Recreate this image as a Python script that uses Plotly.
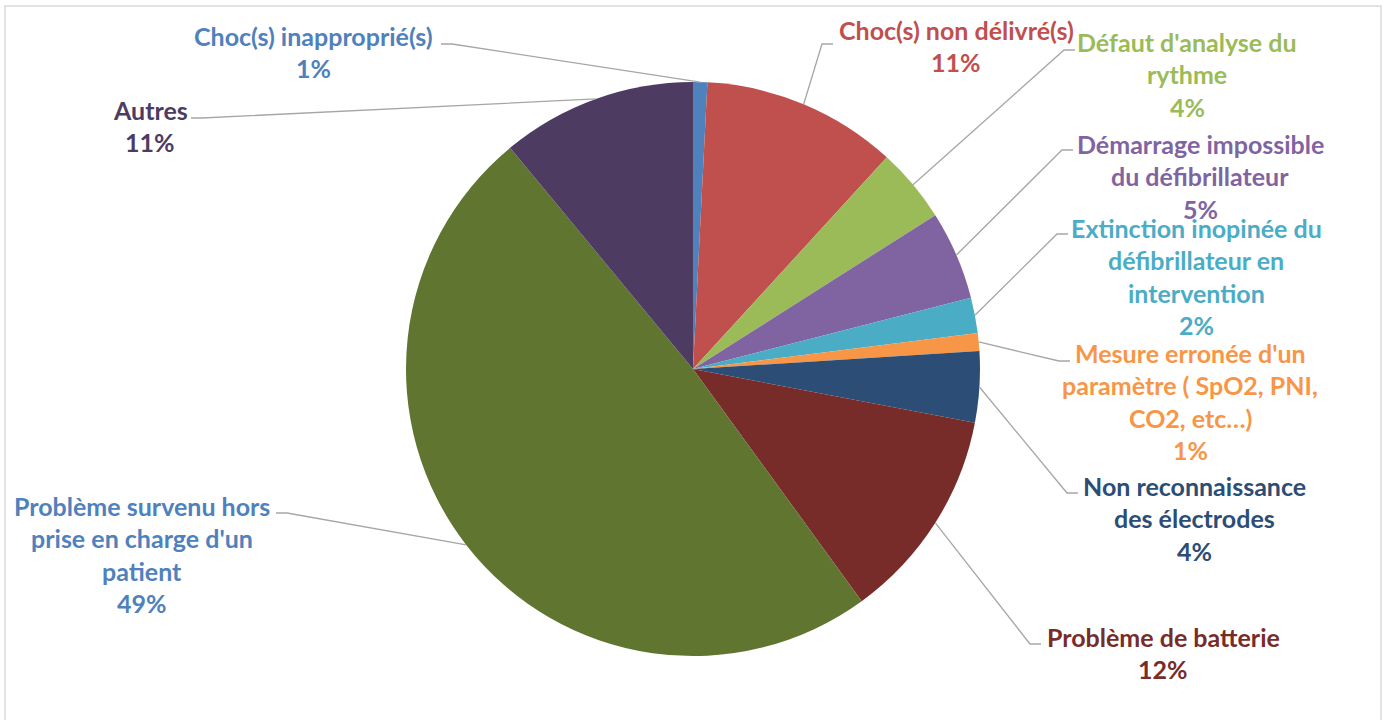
import math
import plotly.graph_objects as go

# ---------------- data ----------------
categories = [
    "Choc(s) inapproprié(s)",
    "Choc(s) non délivré(s)",
    "Défaut d'analyse du\nrythme",
    "Démarrage impossible\ndu défibrillateur",
    "Extinction inopinée du\ndéfibrillateur en\nintervention",
    "Mesure erronée d'un\nparamètre ( SpO2, PNI,\nCO2, etc…)",
    "Non reconnaissance\ndes électrodes",
    "Problème de batterie",
    "Problème survenu hors\nprise en charge d'un\npatient",
    "Autres",
]
values = [0.8, 11, 4.2, 5, 2, 1, 4, 12, 49, 11]
slice_colors = ["#4F81BD", "#C0504D", "#9BBB59", "#8064A2", "#4BACC6",
                "#F79646", "#2C4D75", "#772C2A", "#5F7530", "#4D3B62"]
label_colors = ["#4F81BD", "#C0504D", "#9BBB59", "#8064A2", "#4BACC6",
                "#F79646", "#2C4D75", "#772C2A", "#4F81BD", "#4D3B62"]

# ---------------- layout (pixels) ----------------
W, H = 1386, 720
PIE_LEFT, PIE_RIGHT, PIE_TOP, PIE_BOTTOM = 406, 980, 82, 656
cx = (PIE_LEFT + PIE_RIGHT) / 2
cy = (PIE_TOP + PIE_BOTTOM) / 2
r = (PIE_RIGHT - PIE_LEFT) / 2

# label placement: text centre x, first line y, leader anchor (x, y), stub direction
label_layout = [
    dict(x=313, y=36, ax=441, ay=44, d=+1),
    dict(x=956, y=30, ax=833, ay=44, d=-1),
    dict(x=1187, y=42, ax=1075, ay=50, d=-1),
    dict(x=1200, y=144, ax=1073, ay=150, d=-1),
    dict(x=1196, y=228, ax=1068, ay=234, d=-1),
    dict(x=1190, y=353, ax=1070, ay=361, d=-1),
    dict(x=1194, y=486, ax=1078, ay=493, d=-1),
    dict(x=1163, y=637, ax=1041, ay=644, d=-1),
    dict(x=142, y=506, ax=276, ay=513, d=+1),
    dict(x=150, y=110, ax=191, ay=118, d=+1),
]
LINE_GAP = 32.3
STUB = 11
FONT = "Lato"
FSIZE = 25


def px(x):
    return x / W


def py(y):
    return 1 - y / H


total = sum(values)

fig = go.Figure(go.Pie(
    labels=[c.replace("\n", " ") for c in categories],
    values=values,
    sort=False,
    direction="clockwise",
    rotation=0,
    marker=dict(colors=slice_colors, line=dict(width=0)),
    textinfo="none",
    hoverinfo="label+percent",
    showlegend=False,
    domain=dict(x=[px(PIE_LEFT), px(PIE_RIGHT)], y=[py(PIE_BOTTOM), py(PIE_TOP)]),
))

annotations = []
shapes = []
cum = 0.0
for cat, val, col, lay in zip(categories, values, label_colors, label_layout):
    mid = (cum + val / 2) / total * 2 * math.pi
    cum += val
    sx = cx + r * math.sin(mid)
    sy = cy - r * math.cos(mid)
    ex = lay["ax"] + lay["d"] * STUB
    ey = lay["ay"]
    shapes.append(dict(
        type="path", xref="paper", yref="paper",
        path=f"M {px(lay['ax'])} {py(lay['ay'])} L {px(ex)} {py(ey)} L {px(sx)} {py(sy)}",
        line=dict(color="#A6A6A6", width=1.3),
    ))
    lines = cat.split("\n") + [f"{round(val / total * 100)}%"]
    for i, t in enumerate(lines):
        annotations.append(dict(
            x=px(lay["x"]), y=py(lay["y"] + i * LINE_GAP), xref="paper", yref="paper",
            text=f"<b>{t}</b>", showarrow=False, xanchor="center", yanchor="middle",
            font=dict(family=FONT, size=FSIZE, color=col),
        ))

# chart border
shapes.append(dict(type="rect", xref="paper", yref="paper",
                   x0=px(5), x1=px(1381), y0=py(730), y1=py(6),
                   line=dict(color="#D9D9D9", width=1.5)))

fig.update_layout(
    width=W, height=H,
    margin=dict(l=0, r=0, t=0, b=0),
    paper_bgcolor="white", plot_bgcolor="white",
    annotations=annotations, shapes=shapes,
)

fig.write_html("out.html",
               config={"displayModeBar": False},
               post_script="document.body.style.margin='0';document.body.style.overflow='hidden';")
